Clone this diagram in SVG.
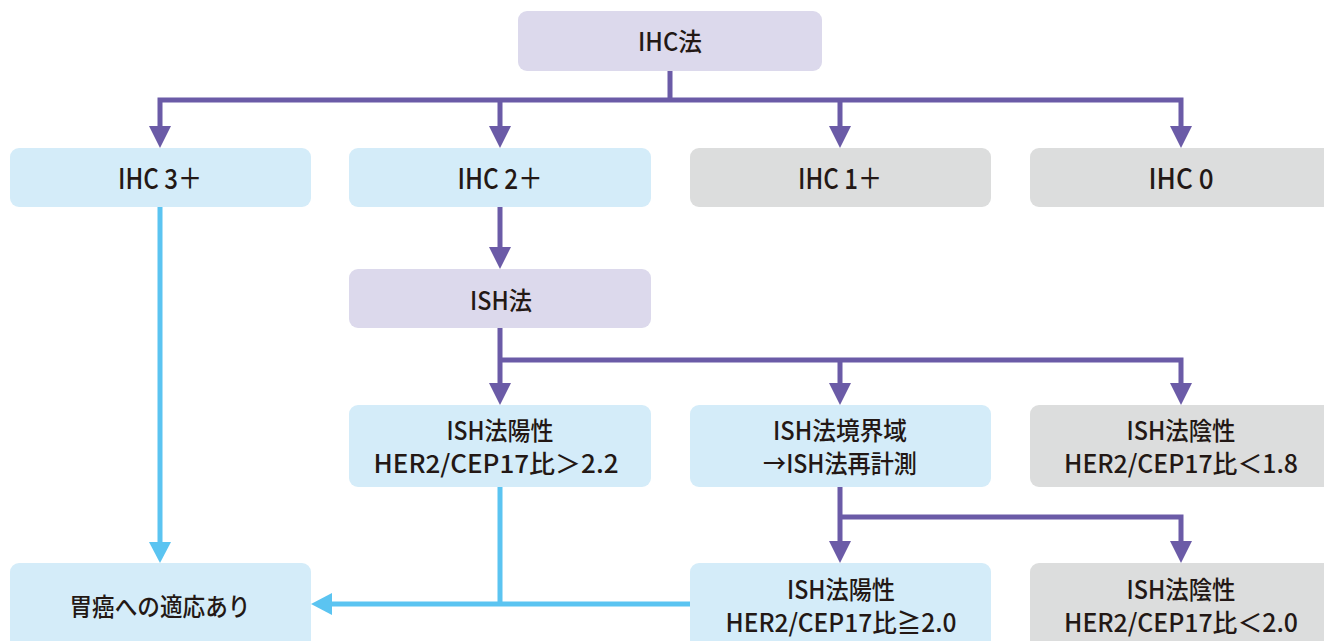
<svg xmlns="http://www.w3.org/2000/svg" width="1324" height="641" viewBox="0 0 1324 641">
<defs>
<style>
.p{fill:#dcd9ec}
.b{fill:#d4ecf9}
.g{fill:#dcdddd}
text{font-family:"Noto Sans CJK JP","Noto Sans",sans-serif;font-size:25px;font-weight:500;fill:#231815;text-anchor:middle}
.big{font-size:28px}
.lp{stroke:#6b5ba7;stroke-width:5;fill:none}
.lb{stroke:#5bc4f1;stroke-width:5;fill:none}
.ap{fill:#6b5ba7}
.ab{fill:#5bc4f1}
</style>
</defs>
<rect width="1324" height="641" fill="#ffffff"/>
<g id="connectors">
<path class="lp" d="M670 71V100M160 128V100H1181V128M500 100V128M840 100V128"/>
<path class="ap" d="M149 126h22l-11 22zM489 126h22l-11 22zM829 126h22l-11 22zM1170 126h22l-11 22z"/>
<path class="lp" d="M500 207V249"/>
<path class="ap" d="M489 247h22l-11 22z"/>
<path class="lp" d="M500 328V385M500 360H1181V385M840 360V385"/>
<path class="ap" d="M489 383h22l-11 22zM829 383h22l-11 22zM1170 383h22l-11 22z"/>
<path class="lp" d="M840 487V543M840 517H1181V543"/>
<path class="ap" d="M829 541h22l-11 22zM1170 541h22l-11 22z"/>
<path class="lb" d="M160 207V544"/>
<path class="ab" d="M149 542h22l-11 21z"/>
<path class="lb" d="M500 487V604M690 604H330"/>
<path class="ab" d="M332 593v22l-21-11z"/>
</g>
<g id="n-ihc"><rect class="p" x="518" y="11" width="304" height="60" rx="9"/><text x="670" y="51" textLength="64" lengthAdjust="spacingAndGlyphs">IHC法</text></g>
<g id="n-ihc3"><rect class="b" x="10" y="148" width="301" height="59" rx="9"/><text class="big" x="160" y="189" textLength="84" lengthAdjust="spacingAndGlyphs">IHC 3＋</text></g>
<g id="n-ihc2"><rect class="b" x="349" y="148" width="302" height="59" rx="9"/><text class="big" x="500" y="189" textLength="85" lengthAdjust="spacingAndGlyphs">IHC 2＋</text></g>
<g id="n-ihc1"><rect class="g" x="690" y="148" width="301" height="59" rx="9"/><text class="big" x="840" y="189" textLength="84" lengthAdjust="spacingAndGlyphs">IHC 1＋</text></g>
<g id="n-ihc0"><rect class="g" x="1030" y="148" width="310" height="59" rx="9"/><text class="big" x="1181" y="189" textLength="65" lengthAdjust="spacingAndGlyphs">IHC 0</text></g>
<g id="n-ish"><rect class="p" x="349" y="269" width="302" height="59" rx="9"/><text x="501" y="310" textLength="62" lengthAdjust="spacingAndGlyphs">ISH法</text></g>
<g id="n-ishpos"><rect class="b" x="349" y="405" width="302" height="82" rx="9"/><text><tspan x="500" y="440" textLength="107" lengthAdjust="spacingAndGlyphs">ISH法陽性</tspan><tspan x="496" y="473" textLength="245" lengthAdjust="spacingAndGlyphs">HER2/CEP17比＞2.2</tspan></text></g>
<g id="n-ishbord"><rect class="b" x="690" y="405" width="301" height="82" rx="9"/><text><tspan x="840" y="440" textLength="134" lengthAdjust="spacingAndGlyphs">ISH法境界域</tspan><tspan x="840" y="473" textLength="154" lengthAdjust="spacingAndGlyphs">→ISH法再計測</tspan></text></g>
<g id="n-ishneg"><rect class="g" x="1030" y="405" width="310" height="82" rx="9"/><text><tspan x="1181" y="440" textLength="109" lengthAdjust="spacingAndGlyphs">ISH法陰性</tspan><tspan x="1181" y="473" textLength="234" lengthAdjust="spacingAndGlyphs">HER2/CEP17比＜1.8</tspan></text></g>
<g id="n-indic"><rect class="b" x="10" y="563" width="301" height="90" rx="9"/><text x="160" y="616" textLength="181" lengthAdjust="spacingAndGlyphs">胃癌への適応あり</text></g>
<g id="n-ishpos2"><rect class="b" x="690" y="563" width="301" height="90" rx="9"/><text><tspan x="841" y="599" textLength="108" lengthAdjust="spacingAndGlyphs">ISH法陽性</tspan><tspan x="841" y="632" textLength="231" lengthAdjust="spacingAndGlyphs">HER2/CEP17比≧2.0</tspan></text></g>
<g id="n-ishneg2"><rect class="g" x="1030" y="563" width="310" height="90" rx="9"/><text><tspan x="1181" y="599" textLength="109" lengthAdjust="spacingAndGlyphs">ISH法陰性</tspan><tspan x="1181" y="632" textLength="234" lengthAdjust="spacingAndGlyphs">HER2/CEP17比＜2.0</tspan></text></g>
</svg>
